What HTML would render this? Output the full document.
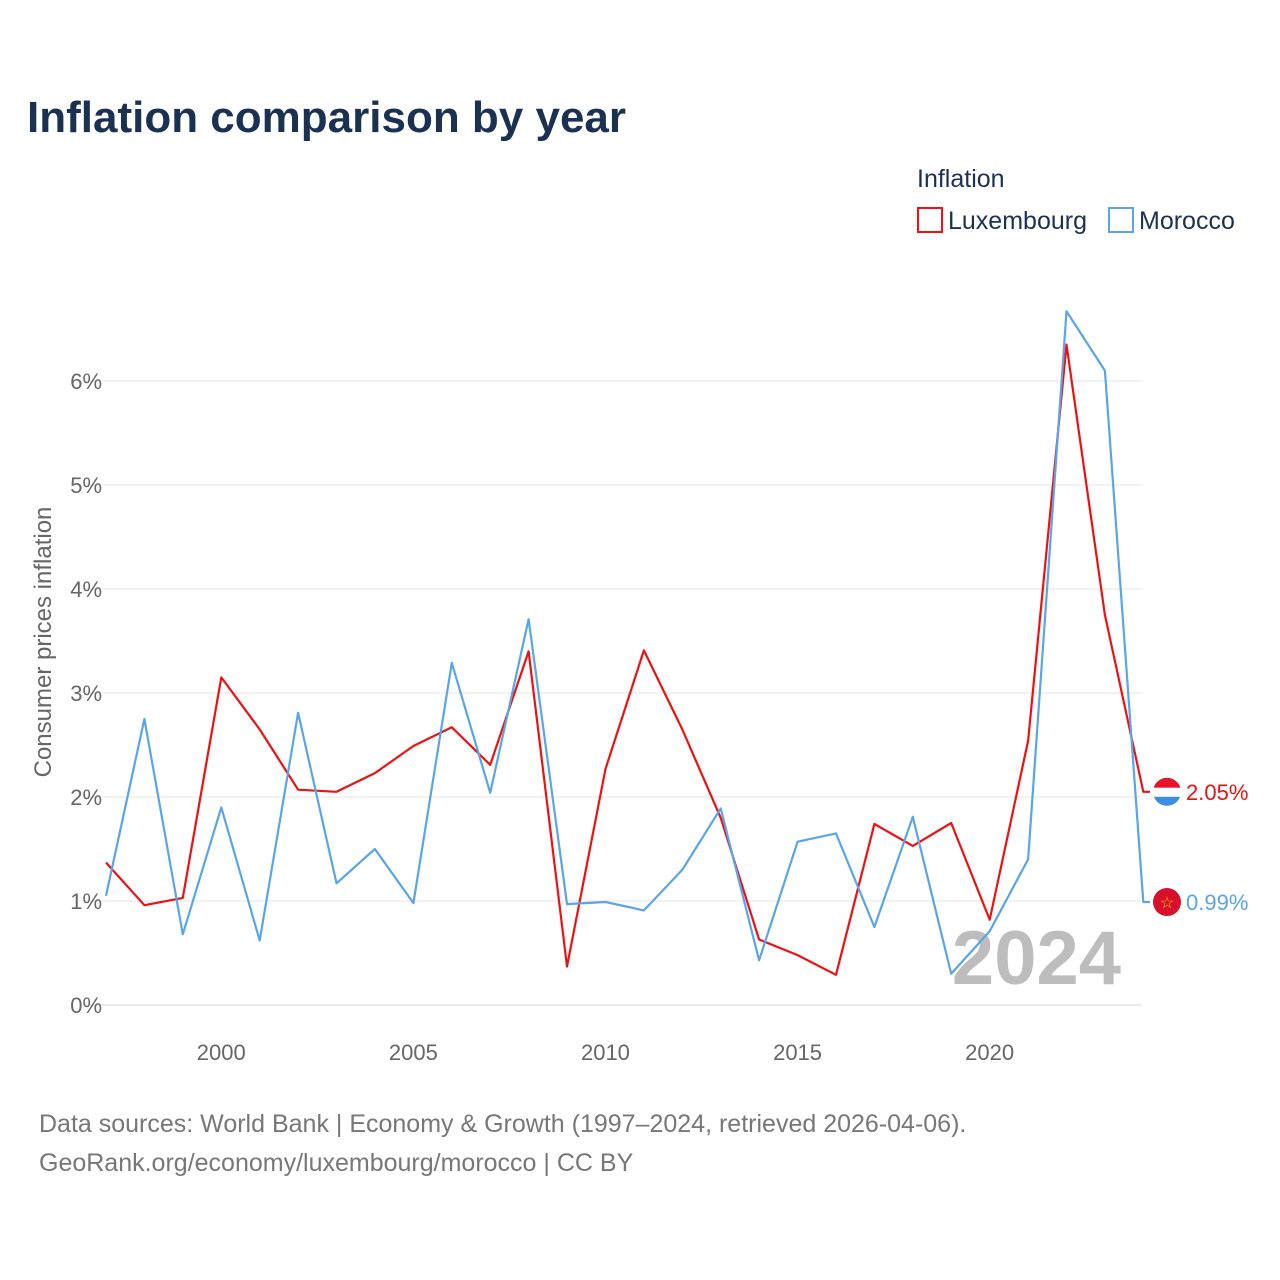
<!DOCTYPE html>
<html><head><meta charset="utf-8"><style>
html,body{margin:0;padding:0;background:#fff;}
body{width:1280px;height:1280px;position:relative;font-family:"Liberation Sans",sans-serif;overflow:hidden;}
</style></head><body>
<svg id="chart" width="1280" height="1280" xmlns="http://www.w3.org/2000/svg" style="position:absolute;left:0;top:0">
<text x="27" y="132" font-size="44" font-weight="bold" fill="#1b3151" font-family="Liberation Sans, sans-serif">Inflation comparison by year</text>
<text x="917" y="187" font-size="25" fill="#1b3151">Inflation</text>
<g>
<rect x="918" y="208" width="24" height="24" fill="none" stroke="#ee1111" stroke-width="2"/>
<text x="948" y="229" font-size="25" fill="#1b3151">Luxembourg</text></g>
<g>
<rect x="1109" y="208" width="24" height="24" fill="none" stroke="#5aa5ea" stroke-width="2"/>
<text x="1139" y="229" font-size="25" fill="#1b3151">Morocco</text></g>
<text transform="translate(51,642) rotate(-90)" text-anchor="middle" font-size="24" fill="#666">Consumer prices inflation</text>
<g id="grid"></g><g id="ticks"></g>
<text x="1121" y="984" text-anchor="end" font-size="76" font-weight="bold" fill="#bdbdbd">2024</text>
<g id="lines"></g>
<text x="39" y="1132" font-size="25" fill="#777">Data sources: World Bank | Economy &amp; Growth (1997–2024, retrieved 2026-04-06).</text>
<text x="39" y="1171" font-size="25" fill="#777">GeoRank.org/economy/luxembourg/morocco | CC BY</text>
</svg>
<script>
const years=[1997,1998,1999,2000,2001,2002,2003,2004,2005,2006,2007,2008,2009,2010,2011,2012,2013,2014,2015,2016,2017,2018,2019,2020,2021,2022,2023,2024];
const luxembourg=[1.37,0.96,1.03,3.15,2.65,2.07,2.05,2.23,2.49,2.67,2.31,3.40,0.37,2.27,3.41,2.65,1.80,0.63,0.48,0.29,1.74,1.53,1.75,0.82,2.54,6.35,3.75,2.05];
const morocco=[1.05,2.75,0.68,1.90,0.62,2.81,1.17,1.50,0.98,3.29,2.04,3.71,0.97,0.99,0.91,1.30,1.89,0.43,1.57,1.65,0.75,1.81,0.30,0.71,1.40,6.67,6.10,0.99];
const yTicks=[0,1,2,3,4,5,6];
const xTicks=[2000,2005,2010,2015,2020];
const NS="http://www.w3.org/2000/svg";
const xS=y=>106+(y-1997)*38.42;
const yS=v=>1005-v*104;
function mk(tag,attrs,parent,text){const e=document.createElementNS(NS,tag);for(const k in attrs)e.setAttribute(k,attrs[k]);if(text!==undefined)e.textContent=text;parent.appendChild(e);return e;}
const grid=document.getElementById('grid'),ticks=document.getElementById('ticks'),lines=document.getElementById('lines');
yTicks.forEach(t=>{
const l=mk('line',{x1:85,x2:1141,y1:yS(t),y2:yS(t),stroke:t===0?'#d8d8d8':'#e6e6e6','stroke-width':1},grid);


const tx=mk('text',{x:102,y:yS(t)+8,'text-anchor':'end','font-size':22,fill:'#666'},ticks,t+'%');


});
xTicks.forEach(t=>{
const tx=mk('text',{x:xS(t),y:1060,'text-anchor':'middle','font-size':22,fill:'#666'},ticks,String(t));


});
function series(vals,color,name,label){
const pts=vals.map((v,i)=>xS(years[i]).toFixed(1)+','+yS(v).toFixed(1));
const last=vals[vals.length-1];
pts.push('1150,'+yS(last).toFixed(1));
const p=mk('polyline',{points:pts.join(' '),fill:'none',stroke:color,'stroke-width':2.2,'stroke-linejoin':'round'},lines);


const t=mk('text',{x:1186,y:yS(last)+8,'font-size':22,fill:color},lines,label);


return yS(last);
}
const ly=series(luxembourg,'#ee1111','luxembourg',luxembourg[luxembourg.length-1].toFixed(2)+'%');
const my=series(morocco,'#5aa5ea','morocco',morocco[morocco.length-1].toFixed(2)+'%');
// Luxembourg flag
const fl=mk('g',{},lines);


const cp=mk('clipPath',{id:'cl'},fl);mk('circle',{cx:1167,cy:ly,r:14},cp);
const gg=mk('g',{'clip-path':'url(#cl)'},fl);
mk('rect',{x:1153,y:ly-14,width:28,height:10,fill:'#e4142c'},gg);
mk('rect',{x:1153,y:ly-4,width:28,height:9,fill:'#fff'},gg);
mk('rect',{x:1153,y:ly+5,width:28,height:10,fill:'#3a8ee6'},gg);
// Morocco flag
const fm=mk('g',{},lines);


mk('circle',{cx:1167,cy:my,r:14,fill:'#d8102c'},fm);
mk('text',{x:1167,y:my+6,'text-anchor':'middle','font-size':16,fill:'#f4c400'},fm,'☆');
</script>
</body></html>
